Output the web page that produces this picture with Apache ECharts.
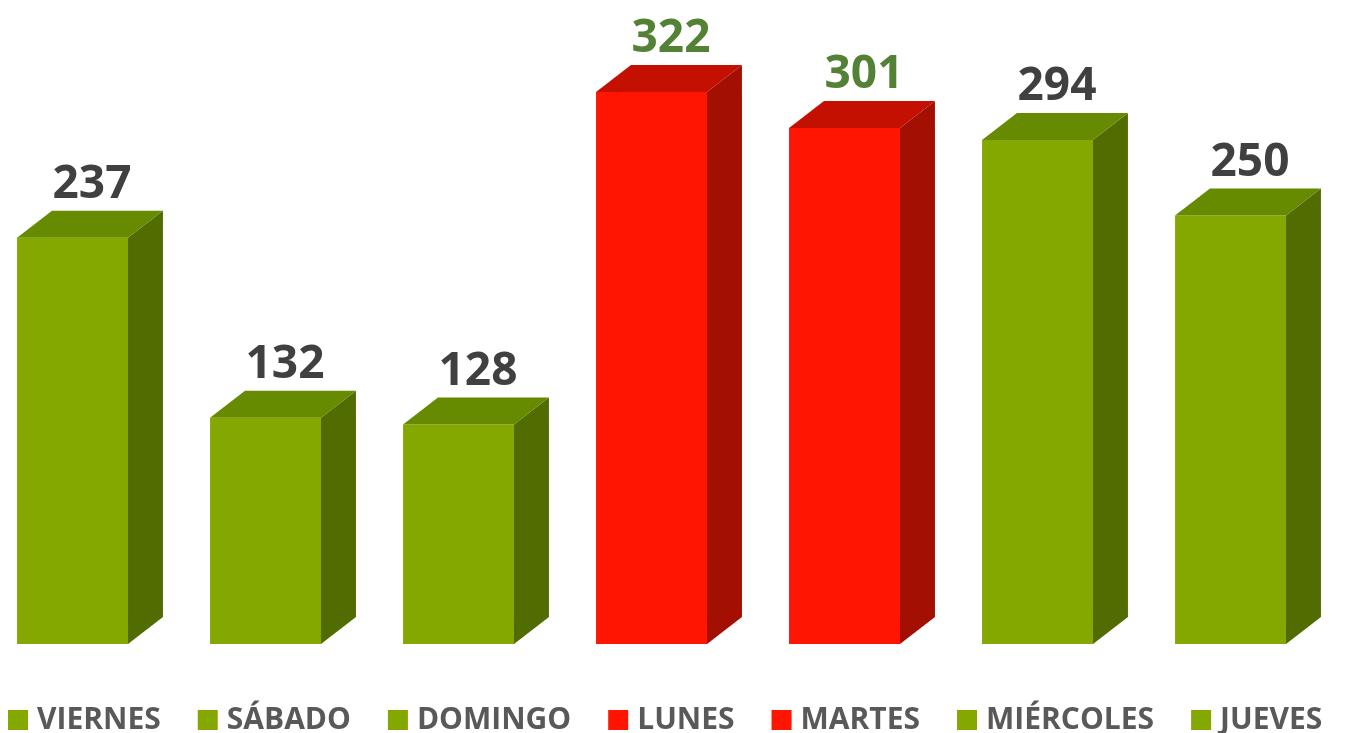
<!DOCTYPE html>
<html>
<head>
<meta charset="utf-8">
<script src="https://cdn.jsdelivr.net/npm/echarts@6/dist/echarts.min.js"></script>
<style>
    html, body { margin: 0; padding: 0; background: #ffffff; }
    #dias { width: 1345px; height: 733px; }
</style>
</head>
<body>
<div id="dias"></div>
<script>
// dias de la semana y valores
var categorias = ['VIERNES', 'SÁBADO', 'DOMINGO', 'LUNES', 'MARTES', 'MIÉRCOLES', 'JUEVES'];
var valores = [237, 132, 128, 322, 301, 294, 250];
var destacado = [false, false, false, true, true, false, false]; // barras en rojo

var verde = { frente: '#84a800', arriba: '#668a00', lado: '#516c00', etiqueta: '#404040' };
var rojo = { frente: '#ff1500', arriba: '#c41000', lado: '#a30f00', etiqueta: '#538135' };

function renderBarra3d(params, api) {
    var i = api.value(0);
    var v = api.value(1);
    var c = destacado[i] ? rojo : verde;
    var paso = api.size([1, 0])[0];   // distancia entre categorias
    var base = api.coord([i, 0]);
    var tope = api.coord([i, v]);
    var w = paso * 0.575;      // ancho del frente
    var dx = paso * 0.181;     // profundidad
    var dy = 27;
    var cx = base[0];
    var x0 = cx - (w + dx) / 2;
    var x1 = x0 + w;
    var yb = base[1];
    var yt = tope[1];
    return {
        type: 'group',
        children: [
            {
                type: 'rect',
                shape: { x: x0, y: yt, width: w, height: yb - yt },
                style: { fill: c.frente }
            },
            {
                type: 'polygon',
                shape: { points: [[x1, yt], [x1 + dx, yt - dy], [x1 + dx, yb - dy], [x1, yb]] },
                style: { fill: c.lado }
            },
            {
                type: 'polygon',
                shape: { points: [[x0, yt], [x0 + dx, yt - dy], [x1 + dx, yt - dy], [x1, yt]] },
                style: { fill: c.arriba }
            },
            {
                type: 'text',
                style: {
                    x: cx + 2,
                    y: yt - dy - 3,
                    text: String(v),
                    fill: c.etiqueta,
                    font: 'bold 46px "Open Sans"',
                    align: 'center',
                    verticalAlign: 'bottom'
                }
            }
        ]
    };
}

var chart = echarts.init(document.getElementById('dias'));

var series = categorias.map(function (nombre, i) {
    return {
        name: nombre,
        type: 'custom',
        renderItem: renderBarra3d,
        itemStyle: { color: destacado[i] ? rojo.frente : verde.frente },
        encode: { x: 0, y: 1 },
        data: [[i, valores[i]]],
        clip: false
    };
});

chart.setOption({
    backgroundColor: '#ffffff',
    animation: false,
    grid: { left: 90, right: 97, top: 44, height: 600 },
    xAxis: {
        type: 'category',
        data: categorias,
        boundaryGap: false,
        show: false
    },
    yAxis: {
        type: 'value',
        min: 0,
        max: 350,
        show: false
    },
    legend: {
        data: categorias,
        left: 8,
        top: 705,
        padding: 0,
        icon: 'rect',
        itemWidth: 20,
        itemHeight: 20,
        itemGap: 37,
        textStyle: {
            color: '#595959',
            fontSize: 30,
            fontWeight: 'bold',
            fontFamily: 'Open Sans',
            padding: [0, 0, 0, 4]
        }
    },
    series: series
});
</script>
</body>
</html>
